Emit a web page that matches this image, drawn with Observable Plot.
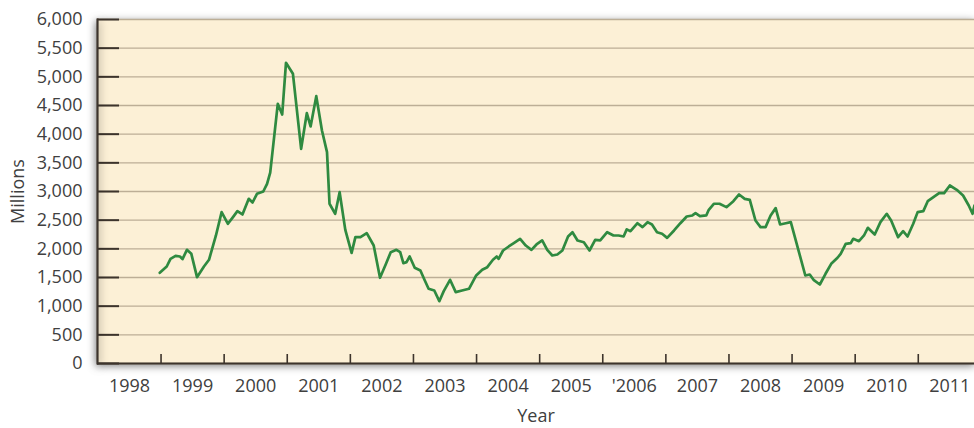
<!DOCTYPE html>
<html><head><meta charset="utf-8">
<script src="https://cdn.jsdelivr.net/npm/d3@7"></script>
<script src="https://cdn.jsdelivr.net/npm/@observablehq/plot@0.6"></script>
<style>
body{margin:0;background:#fff;}
#chart [aria-label="frame"]{filter: drop-shadow(0px 2px 4px rgba(0,0,0,0.55));}
</style></head><body><div id="chart"></div>
<script>
const years = [1998.48,1998.59,1998.65,1998.73,1998.80,1998.84,1998.91,1998.98,1999.07,1999.18,1999.26,1999.37,1999.46,1999.56,1999.64,1999.71,1999.79,1999.89,1999.95,2000.02,2000.12,2000.18,2000.23,2000.35,2000.42,2000.48,2000.59,2000.72,2000.81,2000.87,2000.96,2001.05,2001.13,2001.17,2001.26,2001.33,2001.42,2001.52,2001.58,2001.66,2001.76,2001.87,2001.97,2002.06,2002.14,2002.23,2002.29,2002.34,2002.39,2002.44,2002.52,2002.61,2002.68,2002.74,2002.83,2002.91,2002.98,2003.08,2003.17,2003.27,2003.38,2003.49,2003.59,2003.67,2003.76,2003.82,2003.85,2003.92,2004.01,2004.09,2004.19,2004.28,2004.37,2004.45,2004.54,2004.62,2004.70,2004.78,2004.86,2004.95,2005.02,2005.10,2005.20,2005.29,2005.38,2005.46,2005.57,2005.67,2005.75,2005.83,2005.88,2005.94,2006.05,2006.13,2006.21,2006.28,2006.36,2006.44,2006.52,2006.63,2006.73,2006.83,2006.92,2006.97,2007.04,2007.14,2007.18,2007.26,2007.35,2007.46,2007.57,2007.66,2007.75,2007.83,2007.92,2008.00,2008.08,2008.16,2008.24,2008.31,2008.40,2008.48,2008.71,2008.78,2008.84,2008.94,2009.03,2009.12,2009.22,2009.27,2009.35,2009.43,2009.47,2009.56,2009.64,2009.70,2009.81,2009.90,2010.00,2010.07,2010.18,2010.26,2010.33,2010.42,2010.49,2010.58,2010.65,2010.74,2010.83,2010.91,2011.00,2011.11,2011.21,2011.30,2011.36,2011.39];
const millions = [1582,1692,1826,1878,1866,1820,1983,1913,1506,1692,1809,2233,2640,2437,2552,2657,2599,2872,2808,2960,3000,3134,3330,4530,4343,5245,5053,3745,4366,4134,4663,4064,3686,2786,2611,2988,2330,1930,2204,2204,2274,2058,1495,1727,1942,1983,1942,1750,1768,1866,1669,1622,1448,1303,1273,1087,1262,1460,1244,1273,1303,1530,1634,1680,1809,1866,1826,1971,2041,2099,2175,2058,1983,2076,2146,1983,1884,1901,1971,2215,2290,2146,2116,1971,2157,2146,2290,2233,2233,2215,2340,2308,2447,2378,2465,2425,2290,2262,2192,2320,2447,2564,2582,2622,2570,2582,2681,2786,2786,2727,2831,2948,2872,2855,2494,2378,2378,2580,2710,2425,2447,2465,1535,1552,1460,1378,1565,1739,1844,1913,2088,2099,2175,2133,2233,2367,2250,2465,2611,2494,2204,2308,2215,2437,2640,2657,2831,2901,2971,2971,3105,3030,2930,2756,2611,2756];
const labelYears = [1998,1999,2000,2001,2002,2003,2004,2005,2006,2007,2008,2009,2010,2011];
const yearLabels = ["1998","1999","2000","2001","2002","2003","2004","2005","'2006","2007","2008","2009","2010","2011"];
const yearBoundaries = [1998.5,1999.5,2000.5,2001.5,2002.5,2003.5,2004.5,2005.5,2006.5,2007.5,2008.5,2009.5,2010.5];
const yTicks = [0,500,1000,1500,2000,2500,3000,3500,4000,4500,5000,5500,6000];
const xDomain = [1997.493, 2011.391];

const data = years.map((t, i) => ({t, v: millions[i]}));
const ink = "#3d342c";

const chart = Plot.plot({
  width: 974, height: 428,
  marginLeft: 97, marginRight: 0, marginTop: 19, marginBottom: 65,
  style: {fontFamily: "'Open Sans', sans-serif", fontSize: "18px", color: "#404040", background: "transparent"},
  x: {domain: xDomain},
  y: {domain: [0, 6000]},
  marks: [
    Plot.frame({fill: "#fcf0d6", stroke: null}),
    Plot.gridY(yTicks, {stroke: "#bcae96", strokeOpacity: 1, strokeWidth: 1.4}),
    Plot.axisY(yTicks, {tickSize: 22, dx: 22, text: null, label: null, stroke: ink, strokeWidth: 2}),
    Plot.axisY(yTicks, {tickSize: 0, tickPadding: 15, tickFormat: d3.format(","), label: "Millions", labelAnchor: "center", labelOffset: 86, labelArrow: "none"}),
    Plot.axisX(yearBoundaries, {tickSize: 9, dy: -9, text: null, label: null, stroke: ink, strokeWidth: 1.6}),
    Plot.axisX(labelYears, {tickSize: 0, tickPadding: 16, tickFormat: d => yearLabels[labelYears.indexOf(d)], label: "Year", labelAnchor: "center", labelOffset: 58, labelArrow: "none"}),
    Plot.frame({anchor: "left", stroke: ink, strokeWidth: 2.2}),
    Plot.ruleY([0], {stroke: ink, strokeWidth: 2.2}),
    Plot.line(data, {x: "t", y: "v", stroke: "#2f8a40", strokeWidth: 2.7, strokeLinejoin: "round", clip: true})
  ]
});
document.getElementById("chart").appendChild(chart);
</script></body></html>
